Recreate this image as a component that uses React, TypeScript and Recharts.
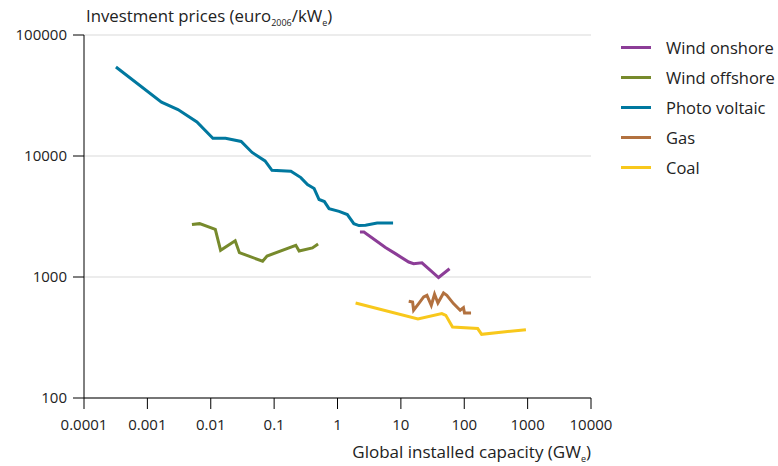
import React from 'react';
import { LineChart, Line, XAxis, YAxis, CartesianGrid } from 'recharts';

// x = global installed capacity (GWe), y = investment price (euro2006/kWe)
const windOnshore = [
  { x: 2.26, y: 2350 }, { x: 2.61, y: 2350 }, { x: 5.71, y: 1750 }, { x: 8.2, y: 1560 },
  { x: 13.3, y: 1330 }, { x: 15.9, y: 1290 }, { x: 21.5, y: 1310 }, { x: 39.3, y: 990 },
  { x: 58.6, y: 1170 },
];

const windOffshore = [
  { x: 0.00505, y: 2710 }, { x: 0.00667, y: 2760 }, { x: 0.0118, y: 2480 }, { x: 0.0143, y: 1660 },
  { x: 0.0243, y: 1990 }, { x: 0.0283, y: 1590 }, { x: 0.0659, y: 1350 }, { x: 0.0773, y: 1490 },
  { x: 0.22, y: 1830 }, { x: 0.248, y: 1640 }, { x: 0.402, y: 1740 }, { x: 0.494, y: 1870 },
];

const photoVoltaic = [
  { x: 0.000319, y: 54400 }, { x: 0.00167, y: 27900 }, { x: 0.00304, y: 24200 }, { x: 0.00605, y: 19100 },
  { x: 0.0108, y: 14000 }, { x: 0.0171, y: 14000 }, { x: 0.0302, y: 13200 }, { x: 0.0449, y: 10700 },
  { x: 0.0719, y: 9100 }, { x: 0.0925, y: 7620 }, { x: 0.184, y: 7480 }, { x: 0.264, y: 6630 },
  { x: 0.336, y: 5800 }, { x: 0.428, y: 5380 }, { x: 0.512, y: 4370 }, { x: 0.621, y: 4200 },
  { x: 0.735, y: 3670 }, { x: 1.06, y: 3490 }, { x: 1.43, y: 3280 }, { x: 1.81, y: 2760 },
  { x: 2.18, y: 2660 }, { x: 2.77, y: 2680 }, { x: 4.22, y: 2790 }, { x: 7.53, y: 2790 },
];

const gas = [
  { x: 13.3, y: 630 }, { x: 15.3, y: 621 }, { x: 15.9, y: 531 }, { x: 19.1, y: 603 },
  { x: 22.9, y: 684 }, { x: 25.8, y: 706 }, { x: 30.2, y: 584 }, { x: 34.0, y: 720 },
  { x: 38.4, y: 610 }, { x: 47.1, y: 738 }, { x: 53.1, y: 706 }, { x: 67.6, y: 603 },
  { x: 86.2, y: 531 }, { x: 97.1, y: 558 }, { x: 101, y: 504 }, { x: 128, y: 504 },
];

const coal = [
  { x: 1.93, y: 610 }, { x: 18.6, y: 450 }, { x: 44.3, y: 499 }, { x: 51.2, y: 482 },
  { x: 65.3, y: 386 }, { x: 163, y: 375 }, { x: 188, y: 336 }, { x: 940, y: 367 },
];

const xTicks = [0.0001, 0.001, 0.01, 0.1, 1, 10, 100, 1000, 10000];
const yTicks = [100, 1000, 10000, 100000];

const series = [
  { name: 'Wind onshore', data: windOnshore, color: '#8c3d97' },
  { name: 'Wind offshore', data: windOffshore, color: '#778a2c' },
  { name: 'Photo voltaic', data: photoVoltaic, color: '#00789f' },
  { name: 'Gas', data: gas, color: '#b2713f' },
  { name: 'Coal', data: coal, color: '#f8c81c' },
];

const FONT = '"Open Sans", sans-serif';
const TEXT = '#222';

export default function App() {
  return (
    <div style={{ position: 'absolute', left: 0, top: 0, width: 778, height: 466, background: '#fff' }}>
      <div style={{ position: 'absolute', left: 86, top: 4, fontFamily: FONT, fontSize: 16.8, color: TEXT, whiteSpace: 'nowrap' }}>
        Investment prices (euro<sub style={{ fontSize: 9 }}>2006</sub>/kW<sub style={{ fontSize: 9 }}>e</sub>)
      </div>
      <LineChart width={778} height={466} data={photoVoltaic} margin={{ top: 35, right: 187, left: 0, bottom: 28 }}>
        <CartesianGrid vertical={false} stroke="#d9d9d9" />
        <XAxis
          dataKey="x"
          type="number"
          scale="log"
          domain={[0.0001, 10000]}
          ticks={xTicks}
          allowDataOverflow
          interval={0}
          tickFormatter={(v) => String(v)}
          tick={{ fontSize: 15, fill: TEXT, fontFamily: FONT }}
          tickSize={11}
          tickMargin={10}
          stroke="#000"
          height={40}
        />
        <YAxis
          dataKey="y"
          type="number"
          scale="log"
          domain={[100, 100000]}
          ticks={yTicks}
          allowDataOverflow
          interval={0}
          tickFormatter={(v) => String(v)}
          tick={{ fontSize: 15, fill: TEXT, fontFamily: FONT }}
          tickSize={11}
          tickMargin={6}
          stroke="#000"
          width={84}
        />
        {series.map((s) => (
          <Line
            key={s.name}
            data={s.data}
            dataKey="y"
            name={s.name}
            stroke={s.color}
            strokeWidth={3}
            dot={false}
            activeDot={false}
            type="linear"
            isAnimationActive={false}
          />
        ))}
      </LineChart>
      <div style={{ position: 'absolute', left: 621, top: 32, fontFamily: FONT, fontSize: 16.5, color: TEXT }}>
        {series.map((s) => (
          <div key={s.name} style={{ display: 'flex', alignItems: 'center', height: 30, whiteSpace: 'nowrap' }}>
            <span style={{ display: 'inline-block', width: 30, height: 3, background: s.color, marginRight: 15 }} />
            <span>{s.name}</span>
          </div>
        ))}
      </div>
      <div style={{ position: 'absolute', right: 187, top: 440, fontFamily: FONT, fontSize: 17, color: TEXT, whiteSpace: 'nowrap' }}>
        Global installed capacity (GW<sub style={{ fontSize: 9 }}>e</sub>)
      </div>
    </div>
  );
}
